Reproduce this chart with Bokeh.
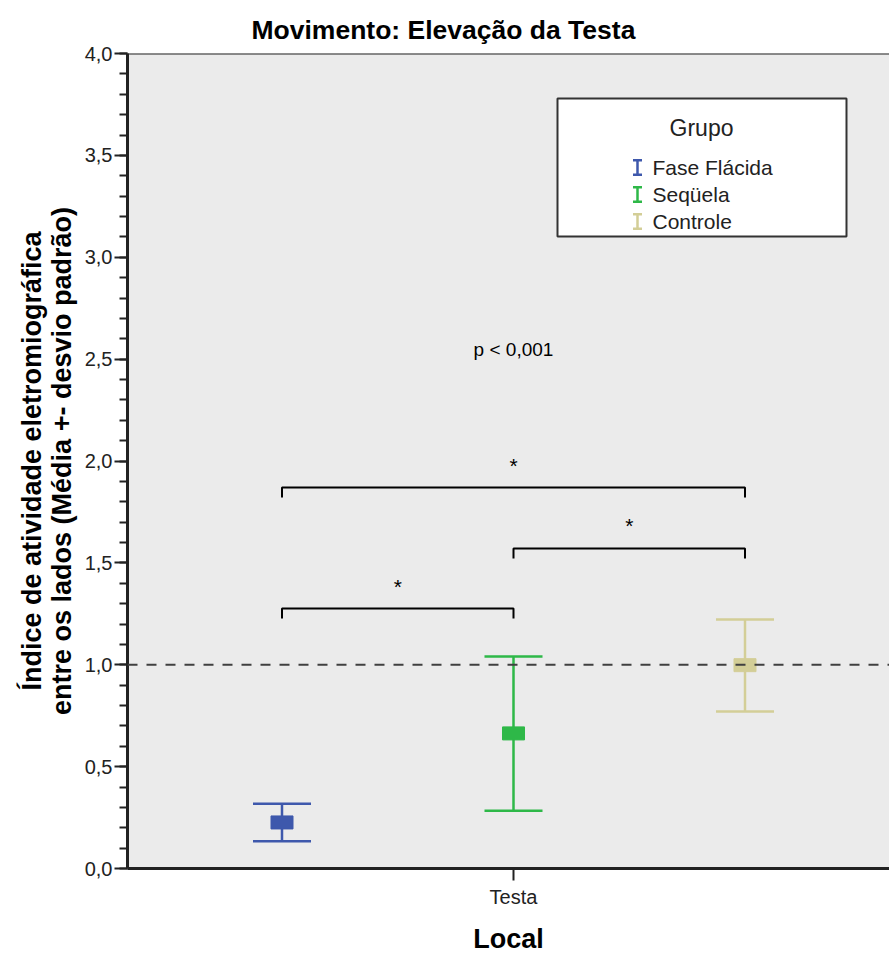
from bokeh.plotting import figure
from bokeh.models import Range1d, FixedTicker, Span, Whisker, TeeHead, Label, BoxAnnotation
from bokeh.embed import file_html
from bokeh.resources import INLINE

# ---------------- data ----------------
grupos = ["Fase Flácida", "Seqüela", "Controle"]
cores = ["#3E58AC", "#2EB848", "#D3CE97"]
medias = [0.226, 0.663, 0.998]
limite_sup = [0.318, 1.040, 1.222]
limite_inf = [0.134, 0.283, 0.771]
local = ["Testa"]
y_ticks = [0.0, 0.5, 1.0, 1.5, 2.0, 2.5, 3.0, 3.5, 4.0]
y_tick_labels = ["0,0", "0,5", "1,0", "1,5", "2,0", "2,5", "3,0", "3,5", "4,0"]
y_minor = [round(i * 0.1, 1) for i in range(41)]
comparacoes = [(0, 2), (1, 2), (0, 1)]
alturas_colchete = [1.87, 1.571, 1.276]
marca_sig = "*"
p_valor = "p < 0,001"
p_valor_y = 2.547
referencia = 1.0

FONT = "Liberation Sans"
pos = [i - 1 for i in range(len(grupos))]   # dodge position of each group around "Testa"

p = figure(width=889, height=957,
           x_range=Range1d(-1.6674, 1.6242), y_range=Range1d(0, 4.0),
           output_backend="svg", toolbar_location=None,
           min_border_left=127, min_border_right=0, min_border_top=53, min_border_bottom=89,
           background_fill_color="#EBEBEB", border_fill_color="white")
p.outline_line_color = None
p.grid.visible = False

# title
p.title.text = "Movimento: Elevação da Testa"
p.title.text_font = FONT
p.title.text_font_size = "26.5px"
p.title.text_font_style = "bold"
p.title.align = "left"
p.title.offset = 124
p.title.standoff = 17
p.title.text_color = "black"

# y axis
ya = p.yaxis[0]
ya.ticker = FixedTicker(ticks=y_ticks, minor_ticks=y_minor)
ya.major_label_overrides = {t: l for t, l in zip(y_ticks, y_tick_labels)}
ya.axis_label = "Índice de atividade eletromiográfica\nentre os lados (Média +- desvio padrão)"
ya.axis_label_text_font = FONT
ya.axis_label_text_font_size = "27px"
ya.axis_label_text_font_style = "bold"
ya.axis_label_text_color = "black"
ya.axis_label_text_line_height = 1.0
ya.axis_label_standoff = 5
ya.major_label_text_font = FONT
ya.major_label_text_font_size = "20px"
ya.major_label_text_color = "#222222"
ya.major_label_standoff = 2
ya.axis_line_width = 3
ya.axis_line_color = "#222222"
ya.major_tick_line_color = "#222222"
ya.minor_tick_line_color = "#222222"
ya.major_tick_line_width = 2
ya.minor_tick_line_width = 2
ya.major_tick_in = 0
ya.major_tick_out = 13
ya.minor_tick_in = 0
ya.minor_tick_out = 8

# x axis
xa = p.xaxis[0]
xa.ticker = FixedTicker(ticks=[0], minor_ticks=[])
xa.major_label_overrides = {0: local[0]}
xa.axis_label = "Local"
xa.axis_label_text_font = FONT
xa.axis_label_text_font_size = "27px"
xa.axis_label_text_font_style = "bold"
xa.axis_label_text_color = "black"
xa.axis_label_standoff = 13
xa.major_label_text_font = FONT
xa.major_label_text_font_size = "20px"
xa.major_label_text_color = "#222222"
xa.major_label_standoff = 5
xa.axis_line_width = 3
xa.axis_line_color = "#222222"
xa.major_tick_line_color = "#222222"
xa.major_tick_line_width = 2
xa.major_tick_in = 0
xa.major_tick_out = 12

# top border of the plot area
p.add_layout(Span(location=4.0, dimension="width", line_color="#222222", line_width=2))

# error bars and means
for i, g in enumerate(grupos):
    w = Whisker(base=pos[i], upper=limite_sup[i], lower=limite_inf[i], dimension="height",
                line_color=cores[i], line_width=2.5,
                upper_head=TeeHead(size=58, line_color=cores[i], line_width=2.5),
                lower_head=TeeHead(size=58, line_color=cores[i], line_width=2.5))
    p.add_layout(w)
    p.rect(x=[pos[i]], y=[medias[i]], width=22, height=13,
           width_units="screen", height_units="screen",
           fill_color=cores[i], line_color=cores[i])

# reference line at 1.0
p.add_layout(Span(location=referencia, dimension="width", line_color="#404040",
                  line_width=2, line_dash="10 9"))

# significance brackets
drop = 0.049
xs, ys = [], []
for (a, b), h in zip(comparacoes, alturas_colchete):
    xs.append([pos[a], pos[a], pos[b], pos[b]])
    ys.append([h - drop, h, h, h - drop])
    p.add_layout(Label(x=(pos[a] + pos[b]) / 2, y=h + 0.11, text=marca_sig,
                       text_align="center", text_baseline="middle",
                       text_font=FONT, text_font_size="21px", text_color="black"))
p.multi_line(xs=xs, ys=ys, line_color="black", line_width=2)

p.add_layout(Label(x=pos[1], y=p_valor_y, text=p_valor, text_align="center",
                   text_baseline="middle", text_font=FONT, text_font_size="19px",
                   text_color="black"))

# legend (drawn by hand to reproduce the SPSS box)
def gx(px):
    return (px - 513) / 231.5

def vy(py):
    return (868 - py) / 203.75

p.add_layout(BoxAnnotation(left=gx(557), right=gx(846), top=vy(98), bottom=vy(236),
                           fill_color="white", fill_alpha=1.0,
                           line_color="#333333", line_width=2, line_alpha=1.0))
p.add_layout(Label(x=gx(701), y=vy(127), text="Grupo", text_align="center",
                   text_baseline="middle", text_font=FONT, text_font_size="23px",
                   text_color="#222222"))
row_y = [167, 194, 221]
for i, g in enumerate(grupos):
    yc = vy(row_y[i])
    p.add_layout(Whisker(base=gx(637), upper=yc + 0.035, lower=yc - 0.035,
                         dimension="height", line_color=cores[i], line_width=2.5,
                         level="annotation",
                         upper_head=TeeHead(size=9, line_color=cores[i], line_width=2.5),
                         lower_head=TeeHead(size=9, line_color=cores[i], line_width=2.5)))
    p.add_layout(Label(x=gx(652), y=yc, text=g, text_align="left",
                       text_baseline="middle", text_font=FONT, text_font_size="21px",
                       text_color="#222222"))

open("out.html", "w").write(file_html(p, INLINE))
